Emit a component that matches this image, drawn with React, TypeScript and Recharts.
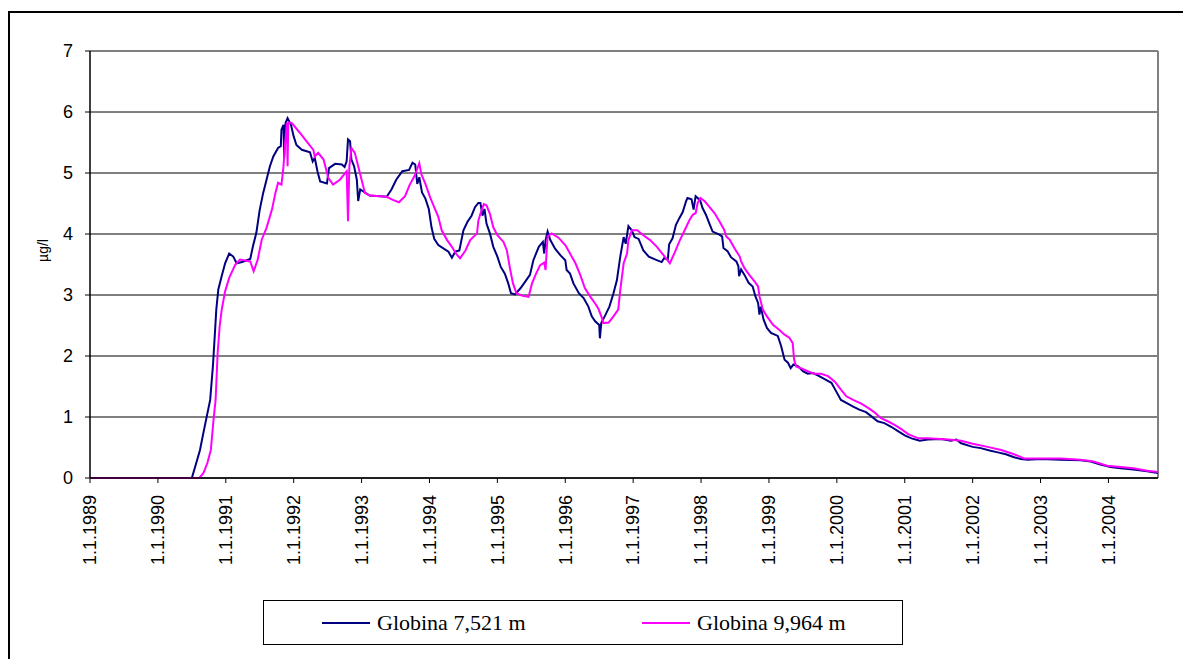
import { LineChart, Line, XAxis, YAxis, CartesianGrid, ReferenceLine } from "recharts";

// decimal years and µg/l
const blueT = [
  1989.0, 1990.5, 1990.55, 1990.62, 1990.67, 1990.72, 1990.77, 1990.81, 1990.84, 1990.86, 1990.89, 1990.94,
  1990.99, 1991.05, 1991.11, 1991.16, 1991.24, 1991.36, 1991.4, 1991.45, 1991.5, 1991.55, 1991.6, 1991.65,
  1991.7, 1991.77, 1991.81, 1991.82, 1991.85, 1991.86, 1991.88, 1991.91, 1991.96, 1992.0, 1992.04, 1992.12,
  1992.24, 1992.28, 1992.31, 1992.35, 1992.39, 1992.49, 1992.52, 1992.61, 1992.71, 1992.75, 1992.78, 1992.8,
  1992.83, 1992.85, 1992.89, 1992.93, 1992.95, 1992.98, 1993.05, 1993.12, 1993.37, 1993.44, 1993.51, 1993.6,
  1993.7, 1993.75, 1993.79, 1993.82, 1993.85, 1993.89, 1993.94, 1993.99, 1994.03, 1994.07, 1994.13, 1994.21,
  1994.28, 1994.33, 1994.38, 1994.44, 1994.5, 1994.56, 1994.62, 1994.67, 1994.72, 1994.75, 1994.78, 1994.81,
  1994.84, 1994.89, 1994.94, 1995.0, 1995.05, 1995.11, 1995.16, 1995.2, 1995.26, 1995.34, 1995.41, 1995.48,
  1995.53, 1995.61, 1995.67, 1995.69, 1995.71, 1995.74, 1995.78, 1995.85, 1995.93, 1996.0, 1996.02, 1996.07,
  1996.12, 1996.2, 1996.27, 1996.34, 1996.39, 1996.44, 1996.5, 1996.51, 1996.53, 1996.59, 1996.65, 1996.71,
  1996.76, 1996.81, 1996.86, 1996.89, 1996.93, 1996.98, 1997.02, 1997.08, 1997.15, 1997.23, 1997.33, 1997.42,
  1997.46, 1997.51, 1997.53, 1997.58, 1997.63, 1997.68, 1997.73, 1997.78, 1997.8, 1997.86, 1997.89, 1997.92,
  1997.95, 1997.99, 1998.02, 1998.07, 1998.12, 1998.17, 1998.27, 1998.31, 1998.33, 1998.39, 1998.44, 1998.52,
  1998.55, 1998.56, 1998.59, 1998.64, 1998.7, 1998.76, 1998.8, 1998.84, 1998.86, 1998.88, 1998.92, 1998.97,
  1999.03, 1999.13, 1999.18, 1999.23, 1999.28, 1999.32, 1999.36, 1999.43, 1999.5, 1999.57, 1999.65, 1999.74,
  1999.84, 1999.92, 1999.99, 2000.06, 2000.14, 2000.24, 2000.33, 2000.43, 2000.51, 2000.6, 2000.7, 2000.8,
  2000.9, 2001.0, 2001.1, 2001.22, 2001.34, 2001.54, 2001.68, 2001.76, 2001.83, 2002.0, 2002.12, 2002.25,
  2002.37, 2002.49, 2002.61, 2002.71, 2002.81, 2003.0, 2003.3, 2003.59, 2003.74, 2003.88, 2004.03, 2004.18,
  2004.37, 2004.57, 2004.73,
];
const blueV = [
  0, 0, 0.19, 0.46, 0.74, 1.01, 1.28, 1.83, 2.38, 2.76, 3.09, 3.31,
  3.52, 3.68, 3.63, 3.52, 3.54, 3.59, 3.8, 4.02, 4.4, 4.67, 4.89, 5.11,
  5.27, 5.41, 5.44, 5.71, 5.79, 5.25, 5.82, 5.9, 5.79, 5.6, 5.46, 5.38,
  5.34, 5.19, 5.25, 5.03, 4.86, 4.83, 5.08, 5.15, 5.14, 5.1, 5.19, 5.55,
  5.52, 5.22, 5.11, 4.89, 4.54, 4.73, 4.68, 4.63, 4.61, 4.73, 4.89, 5.03,
  5.05, 5.17, 5.14, 4.82, 4.93, 4.68, 4.58, 4.41, 4.11, 3.92, 3.82, 3.76,
  3.71, 3.61, 3.71, 3.73, 4.06, 4.2, 4.3, 4.44, 4.51, 4.51, 4.3, 4.41,
  4.17, 4.01, 3.79, 3.63, 3.46, 3.35, 3.19, 3.03, 3.01, 3.11, 3.22, 3.33,
  3.57, 3.79, 3.87, 3.68, 3.9, 4.04, 3.9, 3.76, 3.65, 3.57, 3.41, 3.35,
  3.19, 3.03, 2.95, 2.81, 2.65, 2.57, 2.51, 2.29, 2.54, 2.67, 2.81, 3.03,
  3.24, 3.63, 3.95, 3.84, 4.13, 4.06, 3.95, 3.92, 3.73, 3.63, 3.58, 3.54,
  3.61, 3.58, 3.83, 3.93, 4.15, 4.26, 4.36, 4.54, 4.59, 4.57, 4.4, 4.62,
  4.59, 4.54, 4.43, 4.32, 4.18, 4.04, 3.99, 3.96, 3.77, 3.72, 3.62, 3.55,
  3.47, 3.31, 3.42, 3.33, 3.2, 3.14, 2.98, 2.87, 2.68, 2.81, 2.6, 2.46,
  2.38, 2.33, 2.16, 1.94, 1.89, 1.8, 1.86, 1.83, 1.75, 1.71, 1.72, 1.67,
  1.61, 1.56, 1.42, 1.28, 1.23, 1.17, 1.12, 1.08, 1.01, 0.93, 0.9, 0.84,
  0.77, 0.7, 0.65, 0.61, 0.63, 0.64, 0.61, 0.63, 0.57, 0.51, 0.49, 0.45,
  0.42, 0.39, 0.34, 0.31, 0.3, 0.31, 0.3, 0.29, 0.27, 0.22, 0.18, 0.16,
  0.14, 0.11, 0.08,
];

const pinkT = [
  1989.0, 1990.61, 1990.67, 1990.73, 1990.78, 1990.82, 1990.85, 1990.88, 1990.91, 1990.94, 1990.99, 1991.05,
  1991.14, 1991.21, 1991.36, 1991.41, 1991.47, 1991.53, 1991.6, 1991.68, 1991.73, 1991.77, 1991.82, 1991.85,
  1991.87, 1991.9, 1991.91, 1991.92, 1991.97, 1992.09, 1992.19, 1992.29, 1992.31, 1992.36, 1992.44, 1992.51,
  1992.58, 1992.68, 1992.78, 1992.8, 1992.82, 1992.85, 1992.9, 1992.95, 1993.0, 1993.05, 1993.12, 1993.37,
  1993.46, 1993.55, 1993.64, 1993.71, 1993.78, 1993.82, 1993.85, 1993.88, 1993.94, 1994.01, 1994.08, 1994.13,
  1994.18, 1994.26, 1994.33, 1994.39, 1994.45, 1994.53, 1994.6, 1994.7, 1994.72, 1994.75, 1994.8, 1994.84,
  1994.89, 1994.94, 1995.0, 1995.09, 1995.14, 1995.19, 1995.23, 1995.28, 1995.36, 1995.46, 1995.51, 1995.57,
  1995.63, 1995.69, 1995.71, 1995.73, 1995.74, 1995.8, 1995.9, 1996.0, 1996.07, 1996.15, 1996.22, 1996.29,
  1996.37, 1996.44, 1996.49, 1996.54, 1996.56, 1996.64, 1996.71, 1996.78, 1996.81, 1996.86, 1996.91, 1996.93,
  1996.98, 1997.06, 1997.15, 1997.25, 1997.35, 1997.45, 1997.54, 1997.61, 1997.68, 1997.75, 1997.83, 1997.88,
  1997.92, 1997.95, 1997.99, 1998.05, 1998.12, 1998.2, 1998.27, 1998.34, 1998.37, 1998.42, 1998.49, 1998.57,
  1998.59, 1998.64, 1998.71, 1998.79, 1998.84, 1998.86, 1998.91, 1998.97, 1999.06, 1999.15, 1999.23, 1999.3,
  1999.35, 1999.37, 1999.4, 1999.47, 1999.57, 1999.67, 1999.77, 1999.87, 1999.97, 2000.06, 2000.14, 2000.24,
  2000.36, 2000.46, 2000.55, 2000.65, 2000.75, 2000.85, 2000.95, 2001.05, 2001.2, 2001.34, 2001.64, 2001.83,
  2002.0, 2002.22, 2002.42, 2002.61, 2002.76, 2003.0, 2003.3, 2003.59, 2003.78, 2003.98, 2004.18, 2004.37,
  2004.57, 2004.73,
];
const pinkV = [
  0, 0, 0.08, 0.25, 0.46, 0.96, 1.28, 2.05, 2.49, 2.76, 3.06, 3.28,
  3.5, 3.58, 3.55, 3.39, 3.58, 3.91, 4.1, 4.4, 4.67, 4.84, 4.81, 5.11,
  5.44, 5.82, 5.11, 5.83, 5.82, 5.66, 5.52, 5.38, 5.27, 5.33, 5.22, 4.92,
  4.81, 4.89, 5.03, 4.21, 5.11, 5.41, 5.33, 5.11, 4.89, 4.67, 4.63, 4.61,
  4.56, 4.52, 4.62, 4.81, 4.95, 5.07, 5.16, 4.98, 4.82, 4.6, 4.41, 4.28,
  4.06, 3.9, 3.79, 3.68, 3.6, 3.73, 3.9, 4.01, 4.22, 4.33, 4.49, 4.47,
  4.33, 4.11, 3.98, 3.87, 3.73, 3.41, 3.19, 3.03, 2.99, 2.97, 3.19, 3.35,
  3.49, 3.53, 3.41, 3.79, 3.96, 4.01, 3.94, 3.82, 3.68, 3.52, 3.33, 3.11,
  2.97, 2.86, 2.77, 2.62, 2.54, 2.55, 2.65, 2.76, 3.08, 3.52, 3.68, 3.9,
  4.06, 4.06, 3.98, 3.9, 3.79, 3.65, 3.52, 3.69, 3.88, 4.04, 4.23, 4.32,
  4.34, 4.51, 4.59, 4.54, 4.45, 4.34, 4.21, 4.07, 3.96, 3.91, 3.77, 3.63,
  3.55, 3.44, 3.33, 3.22, 3.14, 2.98, 2.76, 2.65, 2.51, 2.43, 2.35, 2.3,
  2.21, 1.94, 1.83, 1.8, 1.75, 1.71, 1.71, 1.67, 1.58, 1.45, 1.34, 1.28,
  1.22, 1.15, 1.08, 0.98, 0.93, 0.87, 0.8, 0.72, 0.65, 0.65, 0.63, 0.61,
  0.56, 0.51, 0.46, 0.39, 0.32, 0.32, 0.32, 0.3, 0.27, 0.2, 0.18, 0.16,
  0.12, 0.1,
];

const yearTicks = [1989, 1990, 1991, 1992, 1993, 1994, 1995, 1996, 1997, 1998, 1999, 2000, 2001, 2002, 2003, 2004];
const yTicks = [0, 1, 2, 3, 4, 5, 6, 7];
const seriesNames = ["Globina 7,521 m", "Globina 9,964 m"];
const seriesColors = ["#000080", "#FF00FF"];
const xEnd = 2004.73;

const blueData = blueT.map((t, i) => ({ t, v: blueV[i] }));
const pinkData = pinkT.map((t, i) => ({ t, v: pinkV[i] }));

const sans = "'Liberation Sans', Arial, sans-serif";

function YearTick(props: any) {
  const { x, y, payload } = props;
  return (
    <text
      x={x}
      y={y}
      transform={`rotate(-90, ${x}, ${y})`}
      textAnchor="end"
      dy="0.35em"
      fontSize={18}
      fontFamily={sans}
      fill="#000"
    >
      {`1.1.${payload.value}`}
    </text>
  );
}

function UnitLabel(props: any) {
  const { viewBox } = props;
  const cx = viewBox.x + 43;
  const cy = viewBox.y + viewBox.height / 2 - 14;
  return (
    <text
      x={cx}
      y={cy}
      transform={`rotate(-90, ${cx}, ${cy})`}
      textAnchor="middle"
      dy="0.35em"
      fontSize={14}
      fontFamily={sans}
      fill="#000"
    >
      µg/l
    </text>
  );
}

export default function App() {
  return (
    <div
      style={{
        position: "absolute",
        left: 0,
        top: 0,
        width: 1183,
        height: 659,
        overflow: "hidden",
        background: "#fff",
      }}
    >
      {/* outer frame */}
      <div
        style={{
          position: "absolute",
          left: 8,
          top: 11,
          width: 1200,
          height: 700,
          border: "2px solid #000",
        }}
      />
      <div style={{ position: "absolute", left: 0, top: 0 }}>
        <LineChart
          width={1183}
          height={659}
          margin={{ top: 51, right: 25, left: 0, bottom: 81 }}
        >
          <CartesianGrid horizontal vertical={false} stroke="#000" strokeWidth={1} />
          <XAxis
            type="number"
            dataKey="t"
            domain={[1989, xEnd]}
            ticks={yearTicks}
            allowDuplicatedCategory={false}
            tick={<YearTick />}
            tickSize={5}
            tickMargin={12}
            height={100}
            stroke="#000"
            axisLine={{ stroke: "#000", strokeWidth: 1.5 }}
            tickLine={{ stroke: "#000" }}
            interval={0}
          />
          <YAxis
            type="number"
            domain={[0, 7]}
            ticks={yTicks}
            width={90}
            tickSize={5}
            tickMargin={12}
            tick={{ fontSize: 18, fontFamily: sans, fill: "#000" }}
            axisLine={{ stroke: "#000", strokeWidth: 1.5 }}
            tickLine={{ stroke: "#000" }}
            label={<UnitLabel />}
          />
          <ReferenceLine x={xEnd} stroke="#808080" strokeWidth={2} />
          <Line
            data={blueData}
            dataKey="v"
            type="linear"
            stroke={seriesColors[0]}
            strokeWidth={2}
            dot={false}
            isAnimationActive={false}
          />
          <Line
            data={pinkData}
            dataKey="v"
            type="linear"
            stroke={seriesColors[1]}
            strokeWidth={2}
            dot={false}
            isAnimationActive={false}
          />
        </LineChart>
      </div>
      {/* legend */}
      <div
        style={{
          position: "absolute",
          left: 263,
          top: 600,
          width: 638,
          height: 43,
          border: "1.5px solid #000",
          fontFamily: "'Liberation Serif', 'Times New Roman', serif",
          fontSize: 22,
          color: "#000",
        }}
      >
        {seriesNames.map((name, i) => (
          <div
            key={name}
            style={{
              position: "absolute",
              left: i === 0 ? 58 : 378,
              top: 0,
              height: 43,
              display: "flex",
              alignItems: "center",
              whiteSpace: "nowrap",
            }}
          >
            <span
              style={{
                display: "inline-block",
                width: 48,
                height: 2,
                background: seriesColors[i],
                marginRight: 7,
              }}
            />
            <span>{name}</span>
          </div>
        ))}
      </div>
    </div>
  );
}
